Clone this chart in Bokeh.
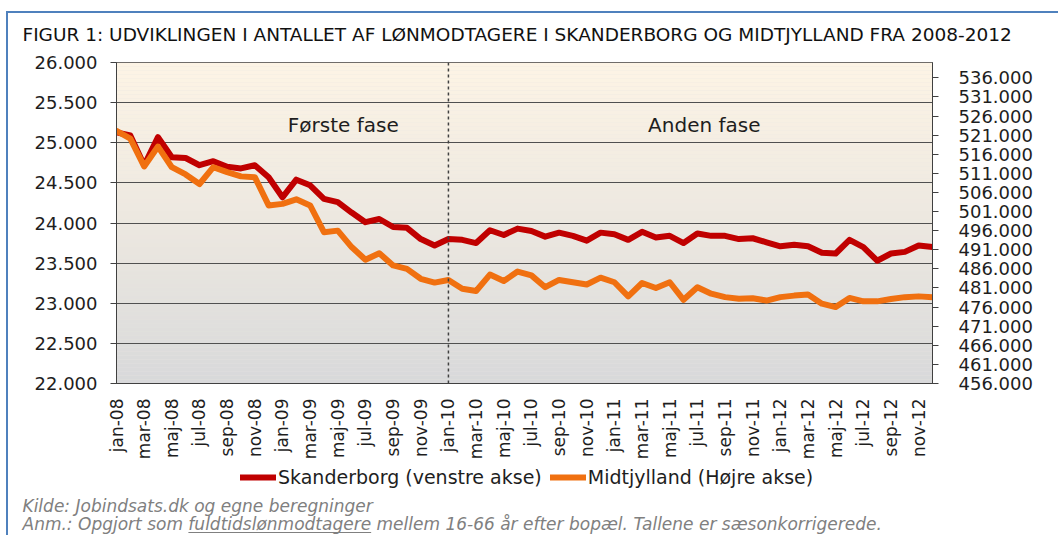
import math
import numpy as np
from bokeh.plotting import figure
from bokeh.layouts import column
from bokeh.models import Range1d, LinearAxis, FixedTicker, Span, Label, Legend, LegendItem
from bokeh.embed import file_html
from bokeh.resources import INLINE

# ---------------- data ----------------
month_names = ["jan", "feb", "mar", "apr", "maj", "jun", "jul", "aug", "sep", "okt", "nov", "dec"]
years = ["08", "09", "10", "11", "12"]
categories = [f"{m}-{y}" for y in years for m in month_names]

# Skanderborg (left axis)
skanderborg = [25130, 25090, 24720, 25070, 24820, 24810, 24720, 24770, 24700, 24680,
               24720, 24570, 24320, 24540, 24470, 24300, 24260, 24130, 24010, 24050,
               23950, 23940, 23800, 23720, 23800, 23790, 23750, 23910, 23850, 23930,
               23900, 23830, 23880, 23840, 23780, 23880, 23860, 23790, 23890, 23820,
               23840, 23750, 23870, 23840, 23840, 23800, 23810, 23760, 23710, 23730,
               23710, 23630, 23620, 23790, 23700, 23530, 23620, 23640, 23720, 23700]

# Midtjylland (right axis)
midtjylland = [522100, 520100, 512800, 518000, 512600, 510700, 508200, 512600, 511300, 510200,
               510000, 502600, 503000, 504200, 502600, 495600, 496000, 491700, 488400, 490100,
               486900, 486000, 483400, 482400, 483100, 480800, 480200, 484500, 482800, 485300,
               484300, 481200, 483100, 482500, 481900, 483700, 482500, 478800, 482300, 481000,
               482500, 477900, 481200, 479500, 478600, 478200, 478300, 477700, 478600, 479000,
               479300, 476900, 476000, 478400, 477500, 477500, 478100, 478600, 478800, 478600]

left_ticks = [22000, 22500, 23000, 23500, 24000, 24500, 25000, 25500, 26000]
right_ticks = [456000, 461000, 466000, 471000, 476000, 481000, 486000, 491000, 496000,
               501000, 506000, 511000, 516000, 521000, 526000, 531000, 536000]
right_range = (456000, 540000)
phase_break = "jan-10"
phase_labels = [("Første fase", 16.4), ("Anden fase", 42.5)]
phase_label_y = 25215

series_names = ["Skanderborg (venstre akse)", "Midtjylland (Højre akse)"]
series_colors = ["#C00000", "#F07010"]

title_text = "FIGUR 1: UDVIKLINGEN I ANTALLET AF LØNMODTAGERE I SKANDERBORG OG MIDTJYLLAND FRA 2008-2012"
note1 = "Kilde: Jobindsats.dk og egne beregninger"
note2 = "Anm.: Opgjort som fuldtidslønmodtagere mellem 16-66 år efter bopæl. Tallene er sæsonkorrigerede."

FONT = "DejaVu Sans"
TXT = "#1e1e1e"

W = 1050
H_HEAD, H_MAIN, H_FOOT = 36, 413, 73


def text_panel(height):
    fig = figure(width=W, height=height, output_backend="svg", toolbar_location=None,
                 x_range=Range1d(0, W), y_range=Range1d(0, height),
                 min_border=0, border_fill_color="white", background_fill_color="white")
    fig.axis.visible = False
    fig.grid.visible = False
    fig.outline_line_color = None
    fig.title.text = ""
    fig.title.text_font_size = "1px"
    fig.title.standoff = 0
    return fig


# ---------------- header figure: title ----------------
h = text_panel(H_HEAD)
h.add_layout(Label(x=14, y=15, text=title_text, text_font=FONT, text_font_size="18.5px",
                   text_color="#111111", text_baseline="middle", text_align="left"))

# ---------------- main figure ----------------
p = figure(width=W, height=H_MAIN, output_backend="svg", toolbar_location=None,
           x_range=Range1d(0, len(categories) - 1), y_range=Range1d(left_ticks[0], left_ticks[-1]),
           min_border_left=108, min_border_right=126, min_border_top=13, min_border_bottom=79,
           background_fill_color="#e8e5e0", border_fill_color="white")
p.outline_line_color = "#404040"
p.outline_line_width = 1
p.title.text = ""
p.title.text_font_size = "1px"
p.title.standoff = 0

# gradient background (cream at top, grey at bottom)
nb = 80
edges = np.linspace(left_ticks[0], left_ticks[-1], nb + 1)
top_c = np.array([253, 244, 229])
bot_c = np.array([215, 216, 218])
cols = []
for k in range(nb):
    t = ((k + 0.5) / nb) ** 0.85
    c = np.round(bot_c + (top_c - bot_c) * t).astype(int)
    cols.append("#%02x%02x%02x" % tuple(c))
bg = p.quad(left=0, right=len(categories) - 1, bottom=edges[:-1], top=edges[1:],
            fill_color=cols, line_color=None)
bg.level = "image"

# grid
p.xgrid.visible = False
p.ygrid.ticker = FixedTicker(ticks=left_ticks)
p.ygrid.grid_line_color = "#505050"
p.ygrid.grid_line_width = 1


def fmt(v):
    return f"{v:,}".replace(",", ".")


# left axis
yax = p.yaxis[0]
yax.ticker = FixedTicker(ticks=left_ticks)
yax.major_label_overrides = {v: fmt(v) for v in left_ticks}
# right axis
p.extra_y_ranges = {"right": Range1d(*right_range)}
rax = LinearAxis(y_range_name="right", ticker=FixedTicker(ticks=right_ticks))
rax.major_label_overrides = {v: fmt(v) for v in right_ticks}
p.add_layout(rax, "right")
for ax in (yax, rax):
    ax.major_label_text_font = FONT
    ax.major_label_text_font_size = "18px"
    ax.major_label_text_color = TXT
    ax.major_tick_out = 6
    ax.major_tick_in = 0
    ax.minor_tick_line_color = None
    ax.axis_line_color = "#404040"
    ax.major_tick_line_color = "#404040"
yax.major_label_standoff = 13
rax.major_label_standoff = 20

# x axis
xax = p.xaxis[0]
xax.ticker = FixedTicker(ticks=list(range(0, len(categories), 2)))
xax.major_label_overrides = {i: c for i, c in enumerate(categories)}
xax.major_label_orientation = math.pi / 2
xax.major_label_text_font = FONT
xax.major_label_text_font_size = "17px"
xax.major_label_text_color = TXT
xax.major_tick_line_color = None
xax.minor_tick_line_color = None
xax.major_label_standoff = 9
xax.axis_line_color = "#404040"

# phase break
p.add_layout(Span(location=categories.index(phase_break), dimension="height",
                  line_color="#404040", line_dash="3 3", line_width=1.5))
for txt, xp in phase_labels:
    p.add_layout(Label(x=xp, y=phase_label_y, text=txt, text_font=FONT, text_font_size="20px",
                       text_color=TXT, text_align="center", text_baseline="middle"))

# lines
xs = list(range(len(categories)))
p.line(xs, skanderborg, line_color=series_colors[0], line_width=6, line_join="round", line_cap="round")
p.line(xs, midtjylland, y_range_name="right", line_color=series_colors[1], line_width=6,
       line_join="round", line_cap="round")

# ---------------- footer figure: legend + notes ----------------
f = text_panel(H_FOOT)

nan = float("nan")
dummies = [f.line(x=[nan], y=[nan], line_color=c, line_width=6, line_cap="round") for c in series_colors]
legend = Legend(items=[LegendItem(label=n, renderers=[r]) for n, r in zip(series_names, dummies)],
                orientation="horizontal", location=(232, 47),
                label_text_font=FONT, label_text_font_size="19px", label_text_color=TXT,
                border_line_color=None, background_fill_alpha=0,
                glyph_width=36, glyph_height=20, label_standoff=2, spacing=8, padding=0, margin=0)
f.add_layout(legend, "center")

NOTE_X = 14
NOTE_PX = 17
f.add_layout(Label(x=NOTE_X, y=30, text=note1, text_font=FONT, text_font_size=f"{NOTE_PX}px",
                   text_font_style="italic", text_color="#808080", text_baseline="middle"))
f.add_layout(Label(x=NOTE_X, y=12, text=note2, text_font=FONT, text_font_size=f"{NOTE_PX}px",
                   text_font_style="italic", text_color="#808080", text_baseline="middle"))
# underline of "fuldtidslønmodtagere" (approximate text metrics)
u0 = NOTE_X + NOTE_PX * 9.76
u1 = u0 + NOTE_PX * 10.75
f.segment(x0=[u0], y0=[3], x1=[u1], y1=[3], line_color="#808080", line_width=1)

for fig in (h, p, f):
    if "frame_align" in fig.properties():
        fig.frame_align = False

layout = column(h, p, f, spacing=0,
                styles={"border-top": "2px solid #4F81BD", "border-left": "2px solid #4F81BD",
                        "margin-top": "11px", "margin-left": "6px"})

open("out.html", "w").write(file_html(layout, INLINE))
